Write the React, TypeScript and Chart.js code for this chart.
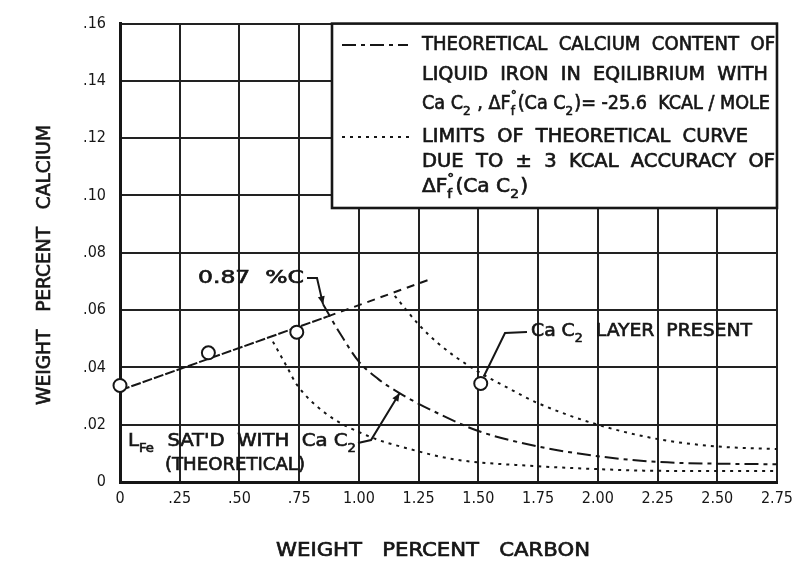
import { useEffect, useRef } from "react";
import { Chart, registerables } from "chart.js";

Chart.register(...registerables);

// Axis ticks
const xTickValues = [0, 0.25, 0.5, 0.75, 1.0, 1.25, 1.5, 1.75, 2.0, 2.25, 2.5, 2.75];
const xTickLabels = ["0", ".25", ".50", ".75", "1.00", "1.25", "1.50", "1.75", "2.00", "2.25", "2.50", "2.75"];
const yTickValues = [0, 0.02, 0.04, 0.06, 0.08, 0.1, 0.12, 0.14, 0.16];
const yTickLabels = ["0", ".02", ".04", ".06", ".08", ".10", ".12", ".14", ".16"];

// Measured heats (circles)
const measuredCarbon = [0, 0.37, 0.74, 1.51];
const measuredCalcium = [0.0337, 0.0451, 0.0523, 0.0344];

// Liquid iron saturated with CaC2 (theoretical line) and its extension past 0.87 %C
const saturatedCarbon = [0, 0.87];
const saturatedCalcium = [0.032, 0.0578];
const extensionCarbon = [0.87, 1.29];
const extensionCalcium = [0.0578, 0.0705];

// Theoretical calcium content in equilibrium with CaC2
const theoryCarbon = [0.85, 0.92, 1.0, 1.08, 1.17, 1.33, 1.5, 1.75, 2.0, 2.25, 2.5, 2.75];
const theoryCalcium = [0.062, 0.052, 0.042, 0.036, 0.031, 0.024, 0.0178, 0.0124, 0.009, 0.007, 0.0064, 0.0062];

// Limits of the theoretical curve (±3 kcal)
const upperCarbon = [1.15, 1.25, 1.33, 1.47, 1.62, 1.75, 2.0, 2.25, 2.5, 2.75];
const upperCalcium = [0.065, 0.055, 0.0485, 0.04, 0.033, 0.0275, 0.02, 0.015, 0.0124, 0.0115];
const lowerCarbon = [0.64, 0.7, 0.74, 0.86, 1.04, 1.2, 1.4, 1.75, 2.0, 2.25, 2.75];
const lowerCalcium = [0.049, 0.04, 0.034, 0.024, 0.016, 0.0118, 0.0079, 0.0055, 0.0045, 0.0039, 0.0038];

const FONT = '"DejaVu Sans Condensed", "DejaVu Sans", sans-serif';
const INK = "#161616";
const THEORY_DASH = [14, 5, 4, 5];
const LIMIT_DASH = [3, 5];

const pts = (xs: number[], ys: number[]) => xs.map((x, i) => ({ x, y: ys[i] }));

type Piece = { t?: string; sub?: string; sup?: string };

function pieceWidth(ctx: CanvasRenderingContext2D, p: Piece, size: number) {
  if (p.t !== undefined) {
    ctx.font = `${size}px ${FONT}`;
    return ctx.measureText(p.t).width;
  }
  ctx.font = `${Math.round(size * 0.66)}px ${FONT}`;
  const a = p.sub ? ctx.measureText(p.sub).width : 0;
  const b = p.sup ? ctx.measureText(p.sup).width : 0;
  return Math.max(a, b) + 1;
}

function ink(ctx: CanvasRenderingContext2D, s: string, x: number, y: number) {
  ctx.fillText(s, x, y);
  ctx.strokeText(s, x, y);
}

// Draws lettering squeezed/stretched to a given width
function drawPieces(
  ctx: CanvasRenderingContext2D,
  pieces: Piece[],
  x: number,
  y: number,
  size: number,
  width: number,
  align: "left" | "center" = "left",
  angle = 0
) {
  const natural = pieces.reduce((s, p) => s + pieceWidth(ctx, p, size), 0);
  ctx.save();
  ctx.translate(x, y);
  if (angle) ctx.rotate(angle);
  ctx.scale(width / natural, 1);
  let cx = align === "center" ? -natural / 2 : 0;
  ctx.textBaseline = "middle";
  ctx.textAlign = "left";
  ctx.fillStyle = INK;
  ctx.strokeStyle = INK;
  ctx.lineWidth = 0.6;
  ctx.setLineDash([]);
  for (const p of pieces) {
    const w = pieceWidth(ctx, p, size);
    if (p.t !== undefined) ink(ctx, p.t, cx, 0);
    else {
      if (p.sub) ink(ctx, p.sub, cx, size * 0.42);
      if (p.sup) ink(ctx, p.sup, cx, -size * 0.45);
    }
    cx += w;
  }
  ctx.restore();
}

function arrowHead(ctx: CanvasRenderingContext2D, fx: number, fy: number, tx: number, ty: number) {
  const ang = Math.atan2(ty - fy, tx - fx);
  const len = 8;
  const half = 3.5;
  ctx.beginPath();
  ctx.moveTo(tx, ty);
  ctx.lineTo(tx - len * Math.cos(ang) + half * Math.sin(ang), ty - len * Math.sin(ang) - half * Math.cos(ang));
  ctx.lineTo(tx - len * Math.cos(ang) - half * Math.sin(ang), ty - len * Math.sin(ang) + half * Math.cos(ang));
  ctx.closePath();
  ctx.fill();
}

function polyline(ctx: CanvasRenderingContext2D, p: number[][]) {
  ctx.beginPath();
  ctx.moveTo(p[0][0], p[0][1]);
  for (let i = 1; i < p.length; i++) ctx.lineTo(p[i][0], p[i][1]);
  ctx.stroke();
}

const sheet = {
  id: "sheet",
  beforeDraw(chart: any) {
    const ctx = chart.ctx as CanvasRenderingContext2D;
    ctx.save();
    ctx.fillStyle = "#ffffff";
    ctx.fillRect(0, 0, chart.width, chart.height);
    ctx.restore();
  },
  afterDraw(chart: any) {
    const ctx = chart.ctx as CanvasRenderingContext2D;
    const a = chart.chartArea;
    const xs = chart.scales.x;
    const ys = chart.scales.y;
    const px = (v: number) => xs.getPixelForValue(v);
    const py = (v: number) => ys.getPixelForValue(v);

    ctx.save();
    ctx.strokeStyle = INK;
    ctx.fillStyle = INK;
    ctx.lineCap = "butt";

    // Key box
    const bl = 332;
    const bt = a.top;
    const br = a.right;
    const bb = 208;
    ctx.fillStyle = "#ffffff";
    ctx.fillRect(bl, bt, br - bl, bb - bt);
    ctx.lineWidth = 2.6;
    ctx.strokeRect(bl, bt, br - bl, bb - bt);
    ctx.fillStyle = INK;

    ctx.lineWidth = 2;
    ctx.setLineDash(THEORY_DASH);
    polyline(ctx, [[342, 45], [408, 45]]);
    ctx.setLineDash(LIMIT_DASH);
    polyline(ctx, [[342, 137], [410, 137]]);
    ctx.setLineDash([]);

    const LS = 19;
    drawPieces(ctx, [{ t: "THEORETICAL  CALCIUM  CONTENT  OF" }], 422, 45, LS, 353);
    drawPieces(ctx, [{ t: "LIQUID  IRON  IN  EQILIBRIUM  WITH" }], 422, 75, LS, 346);
    drawPieces(
      ctx,
      [
        { t: "Ca C" },
        { sub: "2" },
        { t: " , ΔF" },
        { sub: "f", sup: "°" },
        { t: "(Ca C" },
        { sub: "2" },
        { t: ")= -25.6  KCAL / MOLE" },
      ],
      422,
      104,
      LS,
      348
    );
    drawPieces(ctx, [{ t: "LIMITS  OF  THEORETICAL  CURVE" }], 422, 137, LS, 326);
    drawPieces(ctx, [{ t: "DUE  TO  ±  3  KCAL  ACCURACY  OF" }], 422, 162, LS, 353);
    drawPieces(ctx, [{ t: "ΔF" }, { sub: "f", sup: "°" }, { t: "(Ca C" }, { sub: "2" }, { t: ")" }], 422, 187, LS, 106);

    ctx.strokeStyle = INK;
    ctx.fillStyle = INK;
    ctx.lineWidth = 2;

    // 0.87 %C callout
    const tipA = [px(theoryCarbon[0]), py(theoryCalcium[0])];
    drawPieces(ctx, [{ t: "0.87  %C" }], 198, 278, 18, 106);
    polyline(ctx, [[307, 278], [317, 278], [tipA[0], tipA[1]]]);
    arrowHead(ctx, 317, 278, tipA[0], tipA[1]);

    // CaC2 layer callout
    const mc = [px(measuredCarbon[3]), py(measuredCalcium[3])];
    drawPieces(ctx, [{ t: "Ca C" }, { sub: "2" }, { t: "  LAYER  PRESENT" }], 531, 331, 18, 221);
    polyline(ctx, [[527, 332], [505, 333], [mc[0] + 3, mc[1] - 7]]);

    // Saturation callout
    const tipB = [px(theoryCarbon[4]), py(theoryCalcium[4])];
    drawPieces(ctx, [{ t: "L" }, { sub: "Fe" }, { t: "  SAT'D  WITH  Ca C" }, { sub: "2" }], 128, 441, 18, 229);
    drawPieces(ctx, [{ t: "(THEORETICAL)" }], 165, 465, 18, 140);
    polyline(ctx, [[358, 443], [371, 440], [tipB[0], tipB[1]]]);
    arrowHead(ctx, 371, 440, tipB[0], tipB[1]);

    // Axis titles
    drawPieces(ctx, [{ t: "WEIGHT   PERCENT   CARBON" }], 433, 551, 19, 314, "center");
    drawPieces(ctx, [{ t: "WEIGHT   PERCENT   CALCIUM" }], 45, 265, 19, 280, "center", -Math.PI / 2);

    ctx.restore();
  },
};

export default function App() {
  const ref = useRef<HTMLCanvasElement>(null);

  useEffect(() => {
    const line = (
      data: { x: number; y: number }[],
      dash: number[],
      cubic: boolean
    ) => ({
      data,
      borderColor: INK,
      borderWidth: 2,
      borderDash: dash,
      pointRadius: 0,
      fill: false,
      tension: 0,
      cubicInterpolationMode: cubic ? ("monotone" as const) : ("default" as const),
    });

    const chart = new Chart(ref.current!, {
      type: "line",
      data: {
        datasets: [
          {
            data: pts(measuredCarbon, measuredCalcium),
            showLine: false,
            pointRadius: 6.5,
            pointBackgroundColor: "#ffffff",
            pointBorderColor: INK,
            pointBorderWidth: 2,
            clip: 10,
          } as any,
          line(pts(saturatedCarbon, saturatedCalcium), [10, 2], false),
          line(pts(extensionCarbon, extensionCalcium), [8, 6], false),
          line(pts(theoryCarbon, theoryCalcium), THEORY_DASH, true),
          line(pts(upperCarbon, upperCalcium), LIMIT_DASH, true),
          line(pts(lowerCarbon, lowerCalcium), LIMIT_DASH, true),
        ],
      },
      options: {
        responsive: false,
        maintainAspectRatio: false,
        animation: false,
        events: [],
        layout: { padding: { top: 18, right: 19, left: 0, bottom: 0 } },
        plugins: { legend: { display: false }, tooltip: { enabled: false } },
        scales: {
          x: {
            type: "linear",
            min: 0,
            max: 2.75,
            afterBuildTicks: (s: any) => {
              s.ticks = xTickValues.map((value) => ({ value }));
            },
            afterFit: (s: any) => {
              s.height = 79;
            },
            ticks: {
              callback: (_v: any, i: number) => xTickLabels[i],
              padding: 7,
              maxRotation: 0,
              autoSkip: false,
              color: INK,
              font: { family: FONT, size: 16 },
            },
            grid: { color: "#222222", lineWidth: 2, drawTicks: false },
            border: { display: true, color: INK, width: 3 },
          },
          y: {
            type: "linear",
            min: 0,
            max: 0.16,
            afterBuildTicks: (s: any) => {
              s.ticks = yTickValues.map((value) => ({ value }));
            },
            afterFit: (s: any) => {
              s.width = 120;
            },
            ticks: {
              callback: (_v: any, i: number) => yTickLabels[i],
              padding: 14,
              autoSkip: false,
              color: INK,
              font: { family: FONT, size: 16 },
            },
            grid: { color: "#222222", lineWidth: 2, drawTicks: false },
            border: { display: true, color: INK, width: 3 },
          },
        },
      },
      plugins: [sheet],
    });
    return () => chart.destroy();
  }, []);

  return (
    <div style={{ position: "fixed", left: 0, top: 0, width: 800, height: 561, background: "#ffffff" }}>
      <canvas ref={ref} width={800} height={561} style={{ display: "block", width: 800, height: 561 }} />
    </div>
  );
}
